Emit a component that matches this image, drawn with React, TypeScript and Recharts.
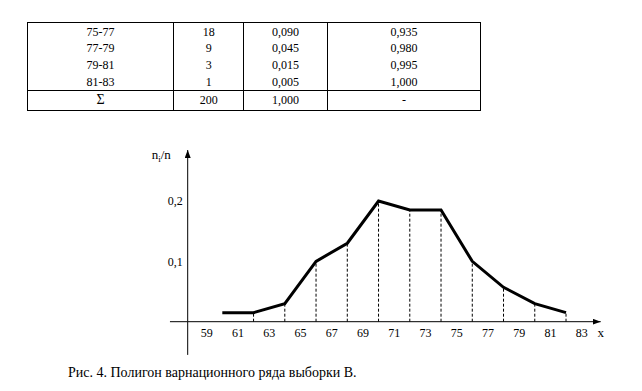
import { LineChart, Line, XAxis, YAxis, ReferenceLine } from 'recharts';

// table rows (tail of the frequency table)
const intervals = ['75-77', '77-79', '79-81', '81-83'];
const counts = ['18', '9', '3', '1'];
const relative = ['0,090', '0,045', '0,015', '0,005'];
const cumulative = ['0,935', '0,980', '0,995', '1,000'];
const totals = ['Σ', '200', '1,000', '-'];

// polygon: interval midpoints and relative frequencies ni/n
const midpoints = [60, 62, 64, 66, 68, 70, 72, 74, 76, 78, 80, 82];
const relFreq = [0.015, 0.015, 0.03, 0.1, 0.13, 0.2, 0.185, 0.185, 0.1, 0.057, 0.03, 0.015];
const xTicks = [59, 61, 63, 65, 67, 69, 71, 73, 75, 77, 79, 81, 83];
const yTicks = [0.1, 0.2];

const data = midpoints.map((x, i) => ({ x, w: relFreq[i] }));

const serif = 'Liberation Serif';
const cell = { border: 'none', borderLeft: '1px solid #000', padding: 0, textAlign: 'center' as const, height: 16.7, lineHeight: '16px' };

const YLabel = ({ viewBox }: any) => (
  <text x={viewBox.x + 4} y={viewBox.y + 9} fontFamily={serif} fontSize={13} fill="#000">
    n<tspan fontSize={9} dy={3}>i</tspan><tspan dy={-3}>/n</tspan>
  </text>
);

const XLabel = ({ viewBox }: any) => (
  <text x={viewBox.x + viewBox.width} y={viewBox.y + 15.6} textAnchor="middle" fontFamily={serif} fontSize={13} fill="#000">
    x
  </text>
);

export default function App() {
  return (
    <div style={{ position: 'absolute', left: 0, top: 0, width: 642, height: 391, background: '#fff', overflow: 'hidden', fontFamily: serif }}>
      <table style={{ position: 'absolute', left: 26.7, top: 22.3, width: 454.3, borderCollapse: 'collapse', border: '1px solid #000', fontSize: 12, color: '#000' }}>
        <colgroup>
          <col style={{ width: 147 }} />
          <col style={{ width: 70 }} />
          <col style={{ width: 84 }} />
          <col style={{ width: 153.3 }} />
        </colgroup>
        <tbody>
          {intervals.map((iv, i) => (
            <tr key={iv}>
              <td style={cell}>{iv}</td>
              <td style={cell}>{counts[i]}</td>
              <td style={cell}>{relative[i]}</td>
              <td style={cell}>{cumulative[i]}</td>
            </tr>
          ))}
          <tr>
            {totals.map((t, i) => (
              <td key={i} style={{ ...cell, borderTop: '1px solid #000', height: 18.5, lineHeight: '18px', fontSize: i === 0 ? 14 : 12 }}>{t}</td>
            ))}
          </tr>
        </tbody>
      </table>

      <div style={{ position: 'absolute', left: 0, top: 0 }}>
        <LineChart width={642} height={391} data={data} margin={{ top: 150, right: 41.3, bottom: 39.3, left: 147.7 }}>
          <defs>
            <marker id="arrowHead" viewBox="0 0 8 6" refX={8} refY={3} markerWidth={8} markerHeight={6} markerUnits="userSpaceOnUse" orient="auto-start-reverse">
              <path d="M0,0 L8,3 L0,6 z" fill="#000" />
            </marker>
          </defs>
          <XAxis
            type="number"
            dataKey="x"
            domain={[57.785, 84.22]}
            ticks={xTicks}
            interval={0}
            height={30}
            axisLine={{ stroke: '#000', strokeWidth: 1, markerEnd: 'url(#arrowHead)' }}
            tickLine={false}
            tickSize={0}
            tickMargin={7}
            tick={{ fill: '#000', fontSize: 12, fontFamily: serif }}
            label={{ content: XLabel }}
          />
          <YAxis
            type="number"
            domain={[0, 0.2845]}
            ticks={yTicks}
            width={40}
            axisLine={{ stroke: '#000', strokeWidth: 1, markerStart: 'url(#arrowHead)' }}
            tickLine={false}
            tickSize={0}
            tickMargin={5}
            tick={{ fill: '#000', fontSize: 12, fontFamily: serif }}
            tickFormatter={(v: number) => String(v).replace('.', ',')}
            label={{ content: YLabel }}
          />
          {/* axis extensions past the origin */}
          <ReferenceLine segment={[{ x: 56.65, y: 0 }, { x: 57.785, y: 0 }]} stroke="#000" ifOverflow="visible" />
          <ReferenceLine segment={[{ x: 57.785, y: 0 }, { x: 57.785, y: -0.055 }]} stroke="#000" ifOverflow="visible" />
          {data.slice(1).map((d) => (
            <ReferenceLine
              key={d.x}
              segment={[{ x: d.x, y: 0 }, { x: d.x, y: d.w }]}
              stroke="#000"
              strokeDasharray="3 2"
              ifOverflow="visible"
            />
          ))}
          <Line type="linear" dataKey="w" stroke="#000" strokeWidth={3} dot={false} isAnimationActive={false} />
        </LineChart>
      </div>

      <div style={{ position: 'absolute', left: 68, top: 365, fontSize: 14, color: '#000', whiteSpace: 'nowrap' }}>
        Рис. 4. Полигон варнационного ряда выборки В.
      </div>
    </div>
  );
}
